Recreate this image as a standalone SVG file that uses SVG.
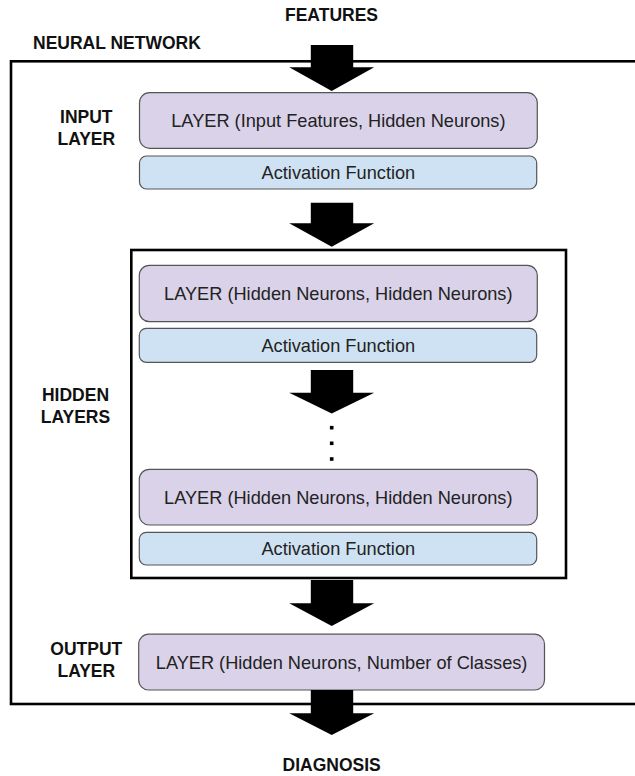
<svg xmlns="http://www.w3.org/2000/svg" width="635" height="776" viewBox="0 0 635 776">
  <style>
    .lbl { font-family: "Liberation Sans", Arial, sans-serif; font-weight: bold; font-size: 17.5px; fill: #111; text-anchor: middle; }
    .txt { font-family: "Liberation Sans", Arial, sans-serif; font-size: 18.2px; fill: #222; text-anchor: middle; }
    .layer { fill: #d9d2e9; stroke: #555; stroke-width: 1.2; }
    .act { fill: #cfe2f3; stroke: #555; stroke-width: 1.2; }
    .frame { fill: none; stroke: #000; stroke-width: 2.6; }
    .arrow { fill: #000; }
  </style>
  <rect width="635" height="776" fill="#fff"/>

  <g id="neural-network">
    <rect class="frame" x="11" y="61.3" width="640" height="642.7"/>
    <text class="lbl" x="33" y="49.3" style="text-anchor:start">NEURAL NETWORK</text>
  </g>

  <g id="features">
    <text class="lbl" x="331.5" y="20.5">FEATURES</text>
  </g>

  <g id="input-layer">
    <text class="lbl" x="86.3" y="123">INPUT</text>
    <text class="lbl" x="86.3" y="145">LAYER</text>
    <rect class="layer" x="139.5" y="92.7" width="397.8" height="55.6" rx="10"/>
    <text class="txt" x="338.4" y="127">LAYER (Input Features, Hidden Neurons)</text>
    <rect class="act" x="139.5" y="156" width="397.2" height="33" rx="7"/>
    <text class="txt" x="338.4" y="179">Activation Function</text>
  </g>

  <g id="hidden-layers">
    <rect class="frame" x="131.3" y="250" width="434.7" height="328"/>
    <text class="lbl" x="75.5" y="400.5">HIDDEN</text>
    <text class="lbl" x="75.5" y="423">LAYERS</text>
  </g>

  <g id="hidden-layer-1">
    <rect class="layer" x="139.3" y="265.3" width="398" height="56.4" rx="10"/>
    <text class="txt" x="338.3" y="300">LAYER (Hidden Neurons, Hidden Neurons)</text>
    <rect class="act" x="139.3" y="328.3" width="397.4" height="34" rx="7"/>
    <text class="txt" x="338.3" y="351.7">Activation Function</text>
  </g>

  <g id="hidden-layer-n">
    <rect class="layer" x="139.3" y="469.3" width="398" height="55.7" rx="10"/>
    <text class="txt" x="338.3" y="503.6">LAYER (Hidden Neurons, Hidden Neurons)</text>
    <rect class="act" x="139.3" y="532.3" width="397.4" height="32.7" rx="7"/>
    <text class="txt" x="338.3" y="555.2">Activation Function</text>
  </g>

  <g id="output-layer">
    <text class="lbl" x="86.3" y="655">OUTPUT</text>
    <text class="lbl" x="86.3" y="676.7">LAYER</text>
    <rect class="layer" x="138.7" y="634.2" width="405.8" height="55.8" rx="10"/>
    <text class="txt" x="341.6" y="668.5">LAYER (Hidden Neurons, Number of Classes)</text>
  </g>

  <g id="diagnosis">
    <text class="lbl" x="331.7" y="770.5">DIAGNOSIS</text>
  </g>

  <g id="connectors">
    <polygon class="arrow" points="310.8,45 353.2,45 353.2,67.3 374.2,67.3 331.7,91 289.2,67.3 310.8,67.3"/>
    <polygon class="arrow" points="310.8,202.7 353.2,202.7 353.2,223.3 374.2,223.3 331.7,246.7 289.2,223.3 310.8,223.3"/>
    <polygon class="arrow" points="310.8,370 353.2,370 353.2,392.7 374.2,392.7 331.7,413.5 289.2,392.7 310.8,392.7"/>
    <rect class="arrow" x="329.9" y="425.9" width="3.6" height="3.6"/>
    <rect class="arrow" x="329.9" y="441.5" width="3.6" height="3.6"/>
    <rect class="arrow" x="329.9" y="457.2" width="3.6" height="3.6"/>
    <polygon class="arrow" points="310.8,580 353.2,580 353.2,603.3 374.2,603.3 331.7,626 289.2,603.3 310.8,603.3"/>
    <polygon class="arrow" points="310.8,690 353.2,690 353.2,713.3 374.2,713.3 331.7,735 289.2,713.3 310.8,713.3"/>
  </g>
</svg>
